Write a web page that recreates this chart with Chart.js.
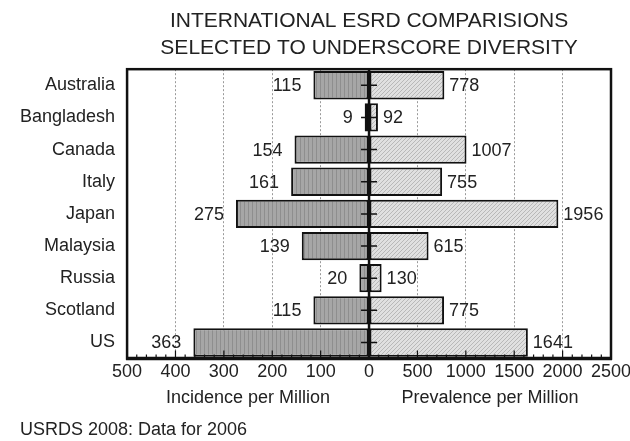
<!DOCTYPE html>
<html>
<head>
<meta charset="utf-8">
<script src="https://cdn.jsdelivr.net/npm/chart.js@4/dist/chart.umd.min.js"></script>
<style>
  html, body { margin: 0; padding: 0; background: #fff; }
  #wrap { width: 630px; height: 441px; }
</style>
</head>
<body>
<div id="wrap"><canvas id="esrdChart" width="630" height="441"></canvas></div>
<script>
// data
var countries = ['Australia', 'Bangladesh', 'Canada', 'Italy', 'Japan', 'Malaysia', 'Russia', 'Scotland', 'US'];
var incidence = [115, 9, 154, 161, 275, 139, 20, 115, 363];
var prevalence = [778, 92, 1007, 755, 1956, 615, 130, 775, 1641];
var incidenceTicks = [0, 100, 200, 300, 400, 500];
var prevalenceTicks = [0, 500, 1000, 1500, 2000, 2500];

var FONT = 'Liberation Sans, Arial, Helvetica, sans-serif';

function makePattern(bg, stroke, diagonal) {
    var c = document.createElement('canvas');
    c.width = 4; c.height = 4;
    var g = c.getContext('2d');
    g.fillStyle = bg;
    g.fillRect(0, 0, 4, 4);
    g.strokeStyle = stroke;
    g.lineWidth = 1;
    g.beginPath();
    if (diagonal) {
        g.moveTo(0, 4); g.lineTo(4, 0);
        g.moveTo(-1, 1); g.lineTo(1, -1);
        g.moveTo(3, 5); g.lineTo(5, 3);
    } else {
        g.moveTo(0.5, 0); g.lineTo(0.5, 4);
    }
    g.stroke();
    return g.createPattern(c, 'repeat');
}

var incFill = makePattern('#a6a6a6', '#8e8e8e', false);
var prevFill = makePattern('#e0e0e0', '#b8b8b8', true);

// frame, centre line, minor ticks and value labels
var overlay = {
    id: 'overlay',
    afterDatasetsDraw: function (chart) {
        var ctx = chart.ctx;
        var a = chart.chartArea;
        var xi = chart.scales.xInc, xp = chart.scales.xPrev, y = chart.scales.y;
        var cx = xi.getPixelForValue(0);
        ctx.save();
        ctx.strokeStyle = '#111';

        // minor / major ticks along the bottom, pointing up
        ctx.lineWidth = 1.2;
        ctx.beginPath();
        for (var v = 0; v <= 500; v += 20) {
            var px = xi.getPixelForValue(v);
            var len = (v % 100 === 0) ? 8 : 4;
            ctx.moveTo(px, a.bottom); ctx.lineTo(px, a.bottom - len);
        }
        for (var w = 0; w <= 2500; w += 100) {
            var qx = xp.getPixelForValue(w);
            var len2 = (w % 500 === 0) ? 8 : 4;
            ctx.moveTo(qx, a.bottom); ctx.lineTo(qx, a.bottom - len2);
        }
        ctx.stroke();

        // category ticks across the centre line
        ctx.lineWidth = 1.5;
        ctx.beginPath();
        for (var i = 0; i < countries.length; i++) {
            var py = y.getPixelForValue(i);
            ctx.moveTo(cx - 8, py); ctx.lineTo(cx + 8, py);
        }
        ctx.stroke();

        // centre line
        ctx.lineWidth = 2.5;
        ctx.beginPath();
        ctx.moveTo(cx, a.top); ctx.lineTo(cx, a.bottom);
        ctx.stroke();

        // frame
        ctx.lineWidth = 2.5;
        ctx.strokeRect(a.left, a.top, a.right - a.left, a.bottom - a.top);
        ctx.lineWidth = 3.5;
        ctx.beginPath();
        ctx.moveTo(a.left - 1, a.bottom); ctx.lineTo(a.right + 1, a.bottom);
        ctx.stroke();

        // value labels
        ctx.fillStyle = '#222';
        ctx.font = '18px ' + FONT;
        ctx.textBaseline = 'middle';
        var m0 = chart.getDatasetMeta(0), m1 = chart.getDatasetMeta(1);
        m0.data.forEach(function (bar, k) {
            ctx.textAlign = 'right';
            ctx.fillText(String(incidence[k]), bar.x - 12, bar.y + 1);
        });
        m1.data.forEach(function (bar, k) {
            ctx.textAlign = 'left';
            ctx.fillText(String(prevalence[k]), bar.x + 5, bar.y + 1);
        });
        ctx.restore();
    }
};

function gridColor(maxVal) {
    return function (c) {
        if (!c.tick || c.tick.value === 0 || c.tick.value === maxVal) return 'rgba(0,0,0,0)';
        return '#9a9a9a';
    };
}

// let the end labels hang over the plot edges instead of shrinking the plot
function noSidePadding(s) {
    s.paddingLeft = 0;
    s.paddingRight = 0;
}

var ctxEsrd = document.getElementById('esrdChart').getContext('2d');
var esrdChart = new Chart(ctxEsrd, {
    type: 'bar',
    data: {
        labels: countries,
        datasets: [{
            label: 'Incidence per Million',
            data: incidence,
            xAxisID: 'xInc',
            backgroundColor: incFill,
            borderColor: '#111',
            borderWidth: 2,
            borderSkipped: false,
            grouped: false,
            barPercentage: 0.88,
            categoryPercentage: 1
        }, {
            label: 'Prevalence per Million',
            data: prevalence,
            xAxisID: 'xPrev',
            backgroundColor: prevFill,
            borderColor: '#111',
            borderWidth: 2,
            borderSkipped: false,
            grouped: false,
            barPercentage: 0.88,
            categoryPercentage: 1
        }]
    },
    options: {
        responsive: false,
        animation: false,
        indexAxis: 'y',
        layout: { padding: { left: 20, right: 19, top: 0, bottom: 0 } },
        plugins: {
            legend: { display: false },
            tooltip: { enabled: false },
            title: {
                display: true,
                fullSize: false,
                text: ['INTERNATIONAL ESRD COMPARISIONS', 'SELECTED TO UNDERSCORE DIVERSITY'],
                color: '#222',
                font: { family: FONT, size: 21, weight: 'normal', lineHeight: 1.29 },
                padding: { top: 8, bottom: 7 }
            },
            subtitle: {
                display: true,
                position: 'bottom',
                align: 'start',
                text: 'USRDS 2008: Data for 2006',
                color: '#222',
                font: { family: FONT, size: 18, weight: 'normal', lineHeight: 1.2 },
                padding: { top: 5.6, bottom: 0 }
            }
        },
        scales: {
            y: {
                type: 'category',
                grid: { display: false, drawTicks: false },
                border: { display: false },
                afterFit: function (s) { s.width -= 12; },
                ticks: { color: '#222', font: { family: FONT, size: 18 }, padding: 12 }
            },
            xInc: {
                type: 'linear',
                position: 'bottom',
                stack: 'x',
                stackWeight: 1,
                reverse: true,
                min: 0,
                max: 500,
                afterBuildTicks: function (s) { s.ticks = incidenceTicks.map(function (v) { return { value: v }; }); },
                afterFit: noSidePadding,
                ticks: { color: '#222', font: { family: FONT, size: 18 }, padding: 3, maxRotation: 0, autoSkip: false },
                grid: { drawTicks: false, lineWidth: 1, color: gridColor(500) },
                border: { display: false, dash: [2, 2] },
                title: {
                    display: true, text: 'Incidence per Million', color: '#222',
                    font: { family: FONT, size: 18 }, padding: { top: 1, bottom: 5 }
                }
            },
            xPrev: {
                type: 'linear',
                position: 'bottom',
                stack: 'x',
                stackWeight: 1,
                min: 0,
                max: 2500,
                afterBuildTicks: function (s) { s.ticks = prevalenceTicks.map(function (v) { return { value: v }; }); },
                afterFit: noSidePadding,
                ticks: {
                    color: '#222', font: { family: FONT, size: 18 }, padding: 3, maxRotation: 0, autoSkip: false,
                    callback: function (v) { return v === 0 ? '' : v; }
                },
                grid: { drawTicks: false, lineWidth: 1, color: gridColor(2500) },
                border: { display: false, dash: [2, 2] },
                title: {
                    display: true, text: 'Prevalence per Million', color: '#222',
                    font: { family: FONT, size: 18 }, padding: { top: 1, bottom: 5 }
                }
            }
        }
    },
    plugins: [overlay]
});
</script>
</body>
</html>
